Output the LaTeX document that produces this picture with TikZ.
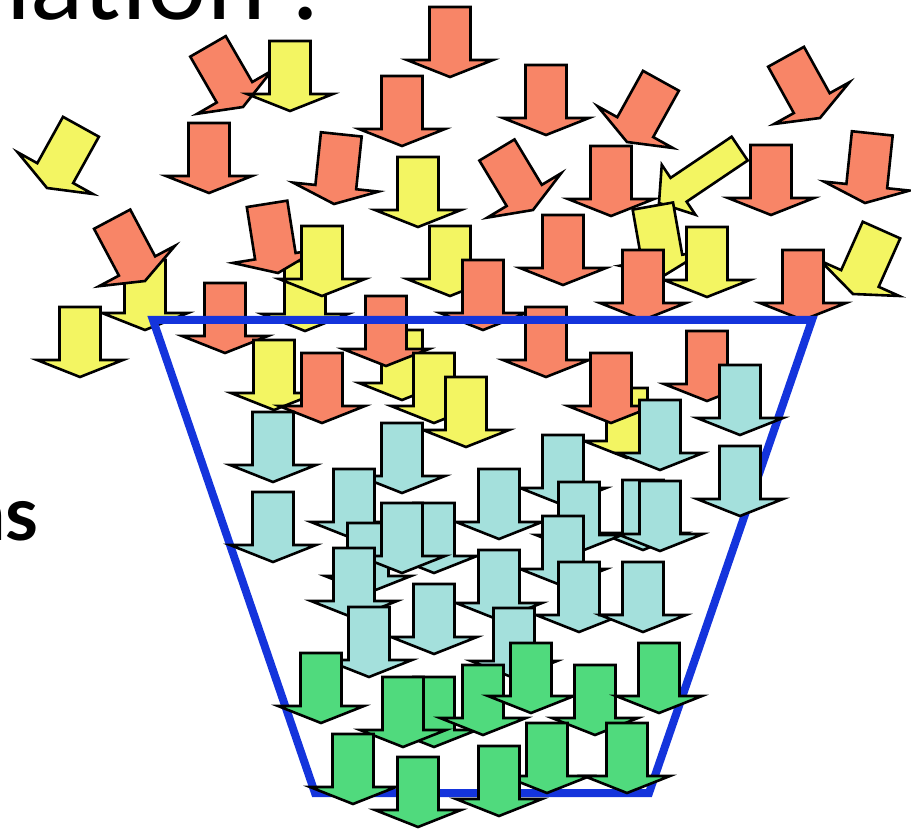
\documentclass[tikz,border=0pt]{standalone}
\usepackage{fontspec}
\setmainfont{Lato}

\definecolor{salmon}{RGB}{248,133,103}
\definecolor{lemon}{RGB}{243,245,98}
\definecolor{aqua}{RGB}{164,224,220}
\definecolor{leaf}{RGB}{80,218,125}
\definecolor{funnelblue}{RGB}{20,52,220}

% block arrow: [extra options]{tip}{tilt}{fill colour}
\newcommand{\blockarrow}[4][]{%
  \draw[arrowline, fill=#4, shift={#2}, rotate=#3, #1]
    (0,0) -- (43,-17) -- (20.5,-17) -- (20.5,-70) -- (-20.5,-70)
    -- (-20.5,-17) -- (-43,-17) -- cycle;}

\begin{document}
\begin{tikzpicture}[
        x=1pt, y=-1pt,
        arrowline/.style={draw=black, line width=2.6pt, line join=miter},
        funnel/.style={draw=funnelblue, line width=8pt, line join=miter},
        every node/.style={inner sep=0pt, text=black}
    ]
    \useasboundingbox (0,0) rectangle (911,829);
    \clip (0,0) rectangle (911,829);

    % Texts cut by the frame
    \node[anchor=base east, font=\fontsize{105}{105}\selectfont] (title) at (319,20) {lation :};
    \node[anchor=base east, font=\fontsize{75}{75}\selectfont\bfseries] (label) at (39,540) {ns};

    % Falling arrows above the funnel
    \blockarrow{(47,188)}{-29}{lemon}
    \blockarrow{(243,107)}{30}{salmon}
    \blockarrow{(290,111)}{0}{lemon}
    \blockarrow{(450,77)}{0}{salmon}
    \blockarrow{(402,146)}{0}{salmon}
    \blockarrow{(546,135)}{0}{salmon}
    \blockarrow{(627,142)}{-29}{salmon}
    \blockarrow{(820,118)}{29}{salmon}
    \blockarrow{(209,193)}{0}{salmon}
    \blockarrow{(334,204)}{-6}{salmon}
    \blockarrow{(418,227)}{0}{lemon}
    \blockarrow{(533,210)}{31}{salmon}
    \blockarrow{(611,216)}{0}{salmon}
    \blockarrow[xscale=0.7, yscale=1.39]{(659,203)}{-56}{lemon}
    \blockarrow{(771,215)}{0}{salmon}
    \blockarrow{(865,203)}{-6}{salmon}
    \blockarrow{(145,330)}{0}{lemon}
    \blockarrow{(145,281)}{28}{salmon}
    \blockarrow{(305,331)}{0}{lemon}
    \blockarrow{(278,273)}{9}{salmon}
    \blockarrow{(322,296)}{0}{lemon}
    \blockarrow{(450,296)}{0}{lemon}
    \blockarrow{(563,285)}{0}{salmon}
    \blockarrow{(665,275)}{10}{lemon}
    \blockarrow{(707,297)}{0}{lemon}
    \blockarrow{(853,294)}{-24}{lemon}
    \blockarrow{(483,330)}{0}{salmon}
    \blockarrow{(643,320)}{0}{salmon}
    \blockarrow{(803,320)}{0}{salmon}
    \blockarrow{(80,377)}{0}{lemon}
    \blockarrow{(225,353)}{0}{salmon}
    \blockarrow{(402,400)}{0}{lemon}
    \blockarrow{(386,366)}{0}{salmon}
    \blockarrow{(434,423)}{0}{lemon}
    \blockarrow{(466,447)}{0}{lemon}
    \blockarrow{(546,377)}{0}{salmon}
    \blockarrow{(274,410)}{0}{lemon}
    \blockarrow{(322,423)}{0}{salmon}
    \blockarrow{(627,458)}{0}{lemon}
    \blockarrow{(611,423)}{0}{salmon}
    \blockarrow{(707,401)}{0}{salmon}

    % The funnel
    \draw[funnel] (153,320) -- (812,320) -- (649,793) -- (315,793) -- cycle;

    % Arrows inside, middle layer
    \blockarrow{(740,435)}{0}{aqua}
    \blockarrow{(660,470)}{0}{aqua}
    \blockarrow{(273,482)}{0}{aqua}
    \blockarrow{(402,493)}{0}{aqua}
    \blockarrow{(563,505)}{0}{aqua}
    \blockarrow{(740,516)}{0}{aqua}
    \blockarrow{(499,539)}{0}{aqua}
    \blockarrow{(354,539)}{0}{aqua}
    \blockarrow{(643,550)}{0}{aqua}
    \blockarrow{(660,551)}{0}{aqua}
    \blockarrow{(579,552)}{0}{aqua}
    \blockarrow{(273,562)}{0}{aqua}
    \blockarrow{(368,593)}{0}{aqua}
    \blockarrow{(434,573)}{0}{aqua}
    \blockarrow{(402,573)}{0}{aqua}
    \blockarrow{(563,586)}{0}{aqua}
    \blockarrow{(354,618)}{0}{aqua}
    \blockarrow{(499,620)}{0}{aqua}
    \blockarrow{(579,632)}{0}{aqua}
    \blockarrow{(643,632)}{0}{aqua}
    \blockarrow{(434,654)}{0}{aqua}
    \blockarrow{(369,677)}{0}{aqua}
    \blockarrow{(514,678)}{0}{aqua}

    % Arrows at the bottom
    \blockarrow{(321,723)}{0}{leaf}
    \blockarrow{(434,747)}{0}{leaf}
    \blockarrow{(403,747)}{0}{leaf}
    \blockarrow{(483,735)}{0}{leaf}
    \blockarrow{(531,713)}{0}{leaf}
    \blockarrow{(595,735)}{0}{leaf}
    \blockarrow{(659,713)}{0}{leaf}
    \blockarrow{(547,793)}{0}{leaf}
    \blockarrow{(627,793)}{0}{leaf}
    \blockarrow{(353,804)}{0}{leaf}
    \blockarrow{(499,816)}{0}{leaf}
    \blockarrow{(418,827)}{0}{leaf}

\end{tikzpicture}
\end{document}
